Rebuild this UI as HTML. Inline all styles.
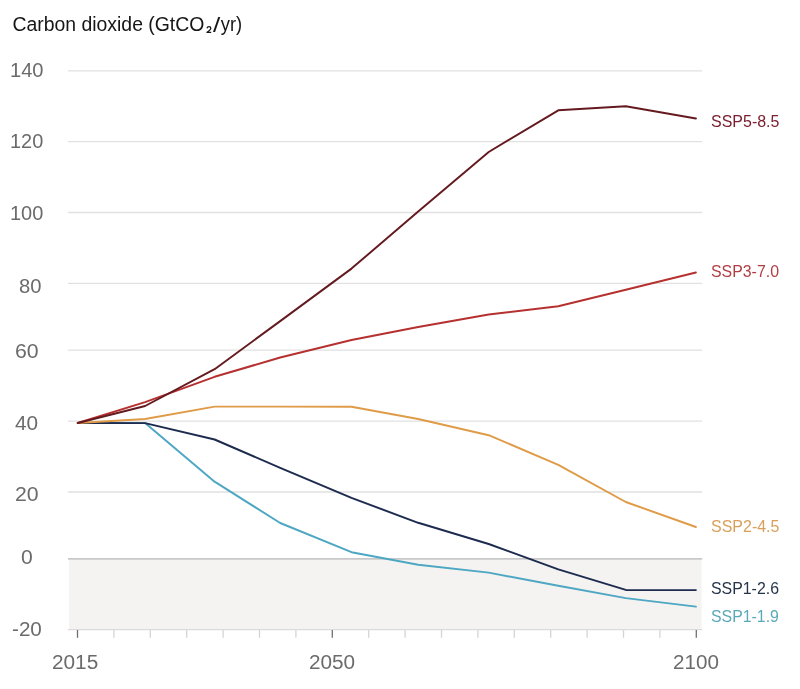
<!DOCTYPE html>
<html><head><meta charset="utf-8"><style>
html,body{margin:0;padding:0;background:#fff;}
body{width:800px;height:689px;overflow:hidden;font-family:"Liberation Sans",sans-serif;}
svg{display:block;will-change:transform;}
</style></head><body>
<svg width="800" height="689" viewBox="0 0 800 689" font-family="Liberation Sans, sans-serif">
<rect x="69" y="559" width="632.5" height="70.60000000000002" fill="#f4f3f2"/>
<line x1="68" x2="702.2" y1="70.8" y2="70.8" stroke="#e1e1e1" stroke-width="1.3"/>
<line x1="68" x2="702.2" y1="141.6" y2="141.6" stroke="#e1e1e1" stroke-width="1.3"/>
<line x1="68" x2="702.2" y1="212.5" y2="212.5" stroke="#e1e1e1" stroke-width="1.3"/>
<line x1="68" x2="702.2" y1="283.3" y2="283.3" stroke="#e1e1e1" stroke-width="1.3"/>
<line x1="68" x2="702.2" y1="350.2" y2="350.2" stroke="#e1e1e1" stroke-width="1.3"/>
<line x1="68" x2="702.2" y1="421.2" y2="421.2" stroke="#e1e1e1" stroke-width="1.3"/>
<line x1="68" x2="702.2" y1="492" y2="492" stroke="#e1e1e1" stroke-width="1.3"/>
<line x1="68" x2="702.2" y1="558.8" y2="558.8" stroke="#b6b6b6" stroke-width="1.3"/>
<line x1="68" x2="702.2" y1="629.6" y2="629.6" stroke="#dcdbdb" stroke-width="1.3"/>
<line x1="77.50" x2="77.50" y1="630" y2="637.8" stroke="#707070" stroke-width="1.3"/>
<line x1="113.90" x2="113.90" y1="630" y2="637.8" stroke="#d5d5d5" stroke-width="1.3"/>
<line x1="150.30" x2="150.30" y1="630" y2="637.8" stroke="#d5d5d5" stroke-width="1.3"/>
<line x1="186.70" x2="186.70" y1="630" y2="637.8" stroke="#d5d5d5" stroke-width="1.3"/>
<line x1="223.10" x2="223.10" y1="630" y2="637.8" stroke="#d5d5d5" stroke-width="1.3"/>
<line x1="259.50" x2="259.50" y1="630" y2="637.8" stroke="#d5d5d5" stroke-width="1.3"/>
<line x1="295.90" x2="295.90" y1="630" y2="637.8" stroke="#d5d5d5" stroke-width="1.3"/>
<line x1="332.30" x2="332.30" y1="630" y2="637.8" stroke="#707070" stroke-width="1.3"/>
<line x1="368.70" x2="368.70" y1="630" y2="637.8" stroke="#d5d5d5" stroke-width="1.3"/>
<line x1="405.10" x2="405.10" y1="630" y2="637.8" stroke="#d5d5d5" stroke-width="1.3"/>
<line x1="441.50" x2="441.50" y1="630" y2="637.8" stroke="#d5d5d5" stroke-width="1.3"/>
<line x1="477.90" x2="477.90" y1="630" y2="637.8" stroke="#d5d5d5" stroke-width="1.3"/>
<line x1="514.30" x2="514.30" y1="630" y2="637.8" stroke="#d5d5d5" stroke-width="1.3"/>
<line x1="550.70" x2="550.70" y1="630" y2="637.8" stroke="#d5d5d5" stroke-width="1.3"/>
<line x1="587.10" x2="587.10" y1="630" y2="637.8" stroke="#d5d5d5" stroke-width="1.3"/>
<line x1="623.50" x2="623.50" y1="630" y2="637.8" stroke="#d5d5d5" stroke-width="1.3"/>
<line x1="659.90" x2="659.90" y1="630" y2="637.8" stroke="#d5d5d5" stroke-width="1.3"/>
<line x1="696.30" x2="696.30" y1="630" y2="637.8" stroke="#707070" stroke-width="1.3"/>
<polyline points="77.80,423 145.10,423.1 214.60,481.7 280.20,523 351.50,552.2 418.20,564.7 488.70,572.6 558.30,585.8 625.80,598.1 695.90,606.6" fill="none" stroke="#4da7c3" stroke-width="1.95" stroke-linejoin="round" stroke-linecap="round"/>
<polyline points="77.80,423 145.10,423.1 214.60,439.5 280.20,467.8 351.50,497.9 418.20,522.8 488.70,544 558.30,569.4 625.80,589.9 695.90,590.1" fill="none" stroke="#1d2b4e" stroke-width="1.95" stroke-linejoin="round" stroke-linecap="round"/>
<polyline points="77.80,423 145.10,419 214.60,406.6 280.20,406.6 351.50,406.7 418.20,419 488.70,435.2 558.30,464.8 625.80,502 695.90,527" fill="none" stroke="#df9b47" stroke-width="1.95" stroke-linejoin="round" stroke-linecap="round"/>
<polyline points="77.80,423 145.10,402.1 214.60,376.8 280.20,357.5 351.50,340 418.20,327 488.70,314.5 558.30,306.2 625.80,289.7 695.90,272.5" fill="none" stroke="#b5302f" stroke-width="1.95" stroke-linejoin="round" stroke-linecap="round"/>
<polyline points="77.80,423 145.10,406 214.60,369.2 280.20,321.1 351.50,268.6 418.20,211.5 488.70,152 558.30,110.3 625.80,106.2 695.90,118.5" fill="none" stroke="#641a1f" stroke-width="1.95" stroke-linejoin="round" stroke-linecap="round"/>
<text x="10.00" y="77.00" font-size="20.30" fill="#6b6b6b" textLength="33.55" lengthAdjust="spacingAndGlyphs">140</text>
<text x="10.00" y="148.00" font-size="20.30" fill="#6b6b6b" textLength="33.26" lengthAdjust="spacingAndGlyphs">120</text>
<text x="10.00" y="220.00" font-size="20.30" fill="#6b6b6b" textLength="33.32" lengthAdjust="spacingAndGlyphs">100</text>
<text x="19.00" y="293.00" font-size="20.30" fill="#6b6b6b" textLength="22.48" lengthAdjust="spacingAndGlyphs">80</text>
<text x="15.00" y="358.00" font-size="20.30" fill="#6b6b6b" textLength="23.65" lengthAdjust="spacingAndGlyphs">60</text>
<text x="15.00" y="430.00" font-size="20.30" fill="#6b6b6b" textLength="23.10" lengthAdjust="spacingAndGlyphs">40</text>
<text x="15.00" y="501.00" font-size="20.30" fill="#6b6b6b" textLength="23.65" lengthAdjust="spacingAndGlyphs">20</text>
<text x="21.00" y="564.00" font-size="20.30" fill="#6b6b6b" textLength="11.74" lengthAdjust="spacingAndGlyphs">0</text>
<text x="12.00" y="636.00" font-size="20.30" fill="#6b6b6b" textLength="29.87" lengthAdjust="spacingAndGlyphs">-20</text>
<text x="52.00" y="669.00" font-size="19.70" fill="#6b6b6b" textLength="46.24" lengthAdjust="spacingAndGlyphs">2015</text>
<text x="309.00" y="669.00" font-size="19.70" fill="#6b6b6b" textLength="46.14" lengthAdjust="spacingAndGlyphs">2050</text>
<text x="673.00" y="669.00" font-size="19.70" fill="#6b6b6b" textLength="45.90" lengthAdjust="spacingAndGlyphs">2100</text>
<text x="711.00" y="127.00" font-size="16.40" fill="#7a2030" textLength="68.46" lengthAdjust="spacingAndGlyphs">SSP5-8.5</text>
<text x="711.00" y="277.00" font-size="16.40" fill="#b23e44" textLength="67.97" lengthAdjust="spacingAndGlyphs">SSP3-7.0</text>
<text x="711.00" y="532.00" font-size="16.40" fill="#d9a05c" textLength="68.46" lengthAdjust="spacingAndGlyphs">SSP2-4.5</text>
<text x="711.00" y="594.00" font-size="16.40" fill="#263449" textLength="67.97" lengthAdjust="spacingAndGlyphs">SSP1-2.6</text>
<text x="711.00" y="622.00" font-size="16.40" fill="#5aa9b8" textLength="67.94" lengthAdjust="spacingAndGlyphs">SSP1-1.9</text>
<text x="12.40" y="31.00" font-size="19.50" fill="#161616" textLength="191.99" lengthAdjust="spacingAndGlyphs">Carbon dioxide (GtCO</text>
<text x="213.00" y="31.60" font-size="19.50" fill="#161616" textLength="7.26" lengthAdjust="spacingAndGlyphs">/</text>
<text x="220.80" y="31.00" font-size="19.50" fill="#161616" textLength="21.37" lengthAdjust="spacingAndGlyphs">yr)</text>
<path d="M207.0,28.2 C207.3,27.2 208.1,26.7 209.0,26.7 C210.1,26.7 210.8,27.4 210.8,28.4 C210.8,29.4 209.9,30.2 207.0,32.3 L211.2,32.3" fill="none" stroke="#161616" stroke-width="1.3" stroke-linejoin="round"/>
</svg>
</body></html>
